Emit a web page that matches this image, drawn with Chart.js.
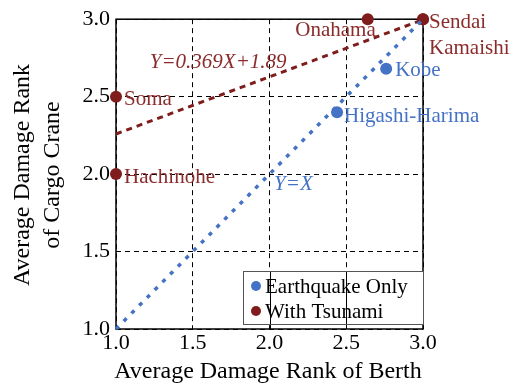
<!DOCTYPE html>
<html>
<head>
<meta charset="utf-8">
<script src="https://cdn.jsdelivr.net/npm/chart.js@4.4.1/dist/chart.umd.min.js"></script>
<style>
  html, body { margin: 0; padding: 0; background: #fff; }
  canvas { display: block; }
</style>
</head>
<body>
<canvas id="rankChart" width="513" height="383"></canvas>
<script>
// port names and average damage ranks (berth on x, cargo crane on y)
const quakePorts = ['Higashi-Harima', 'Kobe'];
const quakeBerth = [2.44, 2.76];
const quakeCrane = [2.40, 2.68];

const tsunamiPorts = ['Soma', 'Hachinohe', 'Onahama', 'Sendai', 'Kamaishi'];
const tsunamiBerth = [1.0, 1.0, 2.64, 3.0, 3.0];
const tsunamiCrane = [2.5, 2.0, 3.0, 3.0, 3.0];

// regression line for the tsunami ports, and the Y=X reference
const fitSlope = 0.369;
const fitIntercept = 1.89;
const lineX = [1.0, 3.0];

const axisTicks = [1.0, 1.5, 2.0, 2.5, 3.0];

const BLUE = '#4472c4';
const RED = '#7f1d1d';
const RED_TEXT = '#8b2b2b';
const SERIF = '"Liberation Serif", "Times New Roman", serif';

const toPoints = (xs, ys) => xs.map((x, i) => ({ x, y: ys[i] }));

// offsets (px) of each port name from its point
const nameOffsets = {
  'Higashi-Harima': { dx: 7, dy: 4, align: 'left' },
  'Kobe': { dx: 9, dy: 2, align: 'left' },
  'Soma': { dx: 8, dy: 3, align: 'left' },
  'Hachinohe': { dx: 8, dy: 3, align: 'left' },
  'Onahama': { dx: 8, dy: 11, align: 'right' },
  'Sendai': { dx: 6, dy: 3, align: 'left' },
  'Kamaishi': { dx: 6, dy: 29, align: 'left' },
};

const labelPlugin = {
  id: 'rankLabels',
  beforeDatasetsDraw(chart) {
    const { ctx, chartArea: a } = chart;
    ctx.save();
    ctx.strokeStyle = '#000';
    ctx.lineWidth = 1.5;
    ctx.strokeRect(a.left, a.top, a.right - a.left, a.bottom - a.top);
    ctx.restore();
  },
  afterDatasetsDraw(chart) {
    const { ctx, chartArea: a, scales: { x, y } } = chart;
    ctx.save();
    ctx.textBaseline = 'middle';
    ctx.font = '21px ' + SERIF;

    const drawNames = (names, xs, ys, color) => {
      ctx.fillStyle = color;
      names.forEach((n, i) => {
        const o = nameOffsets[n];
        ctx.textAlign = o.align;
        ctx.fillText(n, x.getPixelForValue(xs[i]) + o.dx, y.getPixelForValue(ys[i]) + o.dy);
      });
    };
    drawNames(quakePorts, quakeBerth, quakeCrane, BLUE);
    drawNames(tsunamiPorts, tsunamiBerth, tsunamiCrane, RED_TEXT);

    // line equations
    ctx.font = 'italic 21px ' + SERIF;
    ctx.textAlign = 'left';
    ctx.fillStyle = RED_TEXT;
    ctx.fillText('Y=' + fitSlope + 'X+' + fitIntercept, x.getPixelForValue(1.22), y.getPixelForValue(2.72));
    ctx.fillStyle = BLUE;
    ctx.fillText('Y=X', x.getPixelForValue(2.03), y.getPixelForValue(1.93));

    // legend box, grid lines run through it solid
    const lx = 243, ly = 271, lw = a.right - 243, lh = 53;
    ctx.fillStyle = '#fff';
    ctx.fillRect(lx, ly, lw, lh);
    ctx.strokeStyle = '#000';
    ctx.lineWidth = 1;
    [2.0, 2.5].forEach(v => {
      const px = Math.round(x.getPixelForValue(v)) + 0.5;
      ctx.beginPath();
      ctx.moveTo(px, ly);
      ctx.lineTo(px, a.bottom);
      ctx.stroke();
    });
    ctx.strokeStyle = '#555';
    ctx.strokeRect(lx + 0.5, ly + 0.5, lw, lh);
    ctx.font = '21px ' + SERIF;
    const items = chart.data.datasets.filter(d => d.inLegend);
    items.forEach((d, i) => {
      const cy = ly + 15 + i * 25;
      ctx.beginPath();
      ctx.arc(lx + 13, cy, 5, 0, Math.PI * 2);
      ctx.fillStyle = d.backgroundColor;
      ctx.fill();
      ctx.fillStyle = '#000';
      ctx.fillText(d.label, lx + 22, cy + 1);
    });

    // axis titles
    ctx.fillStyle = '#000';
    ctx.font = '24px ' + SERIF;
    ctx.textAlign = 'center';
    ctx.textBaseline = 'alphabetic';
    ctx.fillText('Average Damage Rank of Berth', 268, 378);
    ctx.save();
    ctx.translate(0, 175);
    ctx.rotate(-Math.PI / 2);
    ctx.fillText('Average Damage Rank', 0, 29);
    ctx.fillText('of Cargo Crane', 0, 59);
    ctx.restore();
    ctx.restore();
  }
};

const axisOpts = (extra) => Object.assign({
  type: 'linear',
  min: 1.0,
  max: 3.0,
  afterBuildTicks: s => { s.ticks = axisTicks.map(v => ({ value: v })); },
  grid: { color: '#000', lineWidth: 1, drawTicks: false },
  border: { display: false, dash: [5, 4] },
}, extra);

new Chart(document.getElementById('rankChart'), {
  type: 'scatter',
  data: {
    datasets: [
      {
        label: 'Y=X',
        data: toPoints(lineX, lineX),
        showLine: true,
        borderColor: BLUE,
        borderWidth: 3.5,
        borderDash: [4, 7],
        pointRadius: 0,
        clip: false,
      },
      {
        label: 'Fit',
        data: toPoints(lineX, lineX.map(v => fitSlope * v + fitIntercept)),
        showLine: true,
        borderColor: RED,
        borderWidth: 3,
        borderDash: [6, 5],
        pointRadius: 0,
        clip: false,
      },
      {
        label: 'Earthquake Only',
        inLegend: true,
        data: toPoints(quakeBerth, quakeCrane),
        backgroundColor: BLUE,
        borderWidth: 0,
        pointRadius: 6,
        clip: false,
      },
      {
        label: 'With Tsunami',
        inLegend: true,
        data: toPoints(tsunamiBerth, tsunamiCrane),
        backgroundColor: RED,
        borderWidth: 0,
        pointRadius: 6,
        clip: false,
      },
    ],
  },
  options: {
    responsive: false,
    animation: false,
    layout: { padding: { left: 0, top: 19, right: 90, bottom: 0 } },
    plugins: { legend: { display: false }, tooltip: { enabled: false } },
    scales: {
      x: axisOpts({
        afterFit: s => { s.height = 54; },
        ticks: { font: { family: SERIF, size: 22 }, color: '#000', padding: 1, callback: v => v.toFixed(1) },
      }),
      y: axisOpts({
        afterFit: s => { s.width = 116; },
        ticks: { font: { family: SERIF, size: 22 }, color: '#000', padding: 6, callback: v => v.toFixed(1) },
      }),
    },
  },
  plugins: [labelPlugin],
});
</script>
</body>
</html>
